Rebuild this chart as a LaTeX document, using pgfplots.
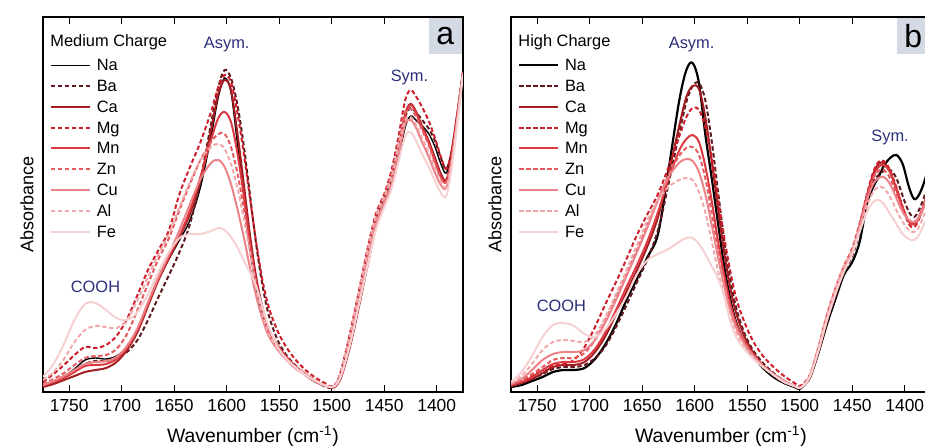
\documentclass[border=0pt]{standalone}
\usepackage{fontspec}
\setmainfont{Liberation Sans}
\usepackage{pgfplots}
\usepackage{pgfplotstable}
\pgfplotsset{compat=1.18}

\definecolor{cNa}{HTML}{000000}
\definecolor{cBa}{HTML}{5E1A1E}
\definecolor{cCa}{HTML}{A11D22}
\definecolor{cMg}{HTML}{CC1F2B}
\definecolor{cMn}{HTML}{DC3A40}
\definecolor{cZn}{HTML}{E55B60}
\definecolor{cCu}{HTML}{EC8388}
\definecolor{cAl}{HTML}{F2A9AC}
\definecolor{cFe}{HTML}{F7D0D2}
\definecolor{note}{HTML}{2B2F7A}
\definecolor{tag}{HTML}{D3DAE3}

% columns: wavenumber, then one column per cation (heights in px above the baseline)
\pgfplotstableread{
w Na Ba Ca Mg Mn Zn Cu Al Fe
1775 7 6 5 10 6 8 7 12 15
1765 11 10 8 18 10 13 11 20 28
1755 16 15 12 27 14 19 16 33 48
1745 23 21 16 37 20 27 22 50 72
1735 32 28 20 45 26 34 28 62 88
1725 34 31 22 44 27 36 30 66 89
1715 33 31 24 47 28 37 31 65 82
1705 36 34 30 56 33 43 35 64 74
1695 45 40 42 73 44 58 46 72 72
1685 62 52 60 97 62 82 64 92 80
1675 88 72 86 122 88 108 90 115 98
1665 112 95 112 142 113 133 115 138 120
1655 133 117 134 162 135 154 138 158 140
1645 152 140 155 198 156 182 162 185 154
1635 172 168 178 225 182 208 188 210 158
1625 205 212 212 250 215 232 213 232 158
1615 255 268 262 280 252 250 229 245 161
1608 295 305 298 305 274 258 232 248 164
1602 314 322 312 317 280 258 225 243 162
1596 300 314 302 310 270 245 208 228 155
1590 250 288 260 280 240 220 184 205 145
1584 200 248 210 240 198 185 156 175 132
1578 145 198 158 195 150 145 125 140 120
1572 105 148 115 150 110 108 96 105 106
1566 78 107 85 112 82 80 73 78 85
1560 58 77 63 85 62 60 56 58 65
1552 45 53 47 62 47 46 43 44 46
1544 34 38 36 46 36 35 33 34 34
1535 25 27 26 33 26 26 24 25 25
1525 17 17 17 22 18 18 17 18 17
1515 10 10 10 14 11 11 10 11 11
1505 6 5 6 8 6 6 6 6 6
1500 4 4 4 5 5 5 5 5 5
1495 8 9 7 10 8 10 8 10 8
1490 20 22 18 26 19 25 20 25 20
1482 50 55 48 62 50 60 52 60 50
1474 88 95 86 102 88 100 92 100 88
1466 128 135 126 143 128 140 132 140 126
1458 165 172 164 178 166 175 168 175 162
1450 188 193 188 198 190 196 190 195 185
1443 205 212 207 222 208 218 208 215 203
1436 235 245 242 258 242 252 240 248 232
1430 265 275 278 292 277 280 268 272 256
1425 276 284 288 302 287 283 272 275 260
1420 272 280 281 296 280 276 265 268 252
1414 266 272 266 285 264 262 250 254 238
1408 259 264 252 272 250 248 236 240 226
1402 246 252 235 255 232 230 220 224 212
1396 228 234 218 235 215 214 207 210 199
1391 219 223 212 223 210 210 204 205 196
1386 238 240 235 240 233 232 228 228 222
1380 280 282 280 282 278 278 276 276 272
1375 320 320 320 320 319 319 319 319 318
}\dataA

\pgfplotstableread{
w Na Ba Ca Mg Mn Zn Cu Al Fe
1775 5 6 6 7 7 8 8 9 10
1765 7 9 9 11 10 12 13 16 20
1755 11 13 13 16 15 18 22 28 36
1745 15 18 19 22 22 25 32 42 55
1735 20 23 25 26 28 32 38 50 67
1725 22 25 27 28 30 34 40 52 69
1715 22 25 27 32 30 34 40 51 66
1705 24 27 30 45 33 39 42 50 58
1695 33 34 40 65 43 52 52 57 55
1685 48 46 56 88 60 72 70 75 63
1675 68 65 78 110 82 95 92 98 78
1665 92 87 100 133 105 118 116 122 96
1655 113 110 122 157 127 142 140 147 118
1645 135 133 146 178 151 167 165 172 132
1635 158 162 175 198 180 192 192 192 138
1625 222 208 218 225 213 217 215 205 143
1615 290 258 265 255 241 236 229 212 150
1608 322 290 295 275 253 244 233 214 154
1602 329 306 306 284 257 245 231 212 154
1596 309 309 303 282 250 237 220 200 148
1590 258 292 275 265 226 214 198 180 138
1584 215 252 232 235 192 180 168 152 126
1578 170 202 185 195 152 143 136 122 114
1572 126 152 140 155 117 110 106 96 96
1566 92 112 103 120 88 84 81 75 70
1560 68 82 77 92 67 65 63 58 54
1552 48 57 54 68 49 49 47 44 42
1544 35 41 39 50 37 37 36 34 33
1535 24 29 27 36 26 27 26 25 25
1525 15 19 18 25 17 18 18 17 17
1515 9 11 11 16 10 11 11 10 10
1505 5 6 6 9 6 6 6 6 6
1500 3 4 4 6 4 4 4 4 4
1495 8 8 8 10 8 9 8 9 8
1490 15 16 16 18 16 18 17 18 16
1482 40 40 42 44 42 46 43 46 42
1474 68 70 72 75 72 78 74 78 72
1466 93 96 98 102 98 104 100 104 98
1458 117 120 122 124 122 126 122 126 120
1450 130 136 140 143 140 144 140 142 138
1443 150 160 166 168 165 168 164 164 160
1436 188 192 196 198 195 196 192 186 180
1430 205 210 218 220 215 214 208 200 190
1425 215 217 228 230 225 221 214 205 192
1420 226 221 229 231 227 222 215 204 188
1414 234 222 220 222 220 214 208 195 178
1408 237 214 203 205 203 198 194 182 168
1402 228 196 184 185 185 182 180 170 158
1396 205 180 170 168 170 172 172 162 153
1391 193 175 168 165 168 170 170 160 152
1386 198 183 175 174 176 176 175 166 158
1380 215 200 192 194 193 192 190 182 172
1375 240 222 212 214 213 212 210 202 190
}\dataB

\pgfplotsset{
  spec/.style={
    scale only axis, width=210pt, height=187.5pt, anchor=south west,
    x dir=reverse, xmin=1375, xmax=1775, ymin=0, ymax=375,
    xtick={1400,1450,...,1750}, ytick=\empty,
    tick align=inside, major tick length=3.5pt,
    axis line style={line width=0.8pt}, tick style={line width=0.7pt, black},
    /pgf/number format/1000 sep={},
    /pgf/number format/assume math mode=true,
    tick label style={font=\fontsize{8.7}{10}\selectfont},
    legend image code/.code={\draw[##1] (0pt,0pt) -- (19.5pt,0pt); \path (21.8pt,0pt);},
    legend cell align=left,
    legend style={at={([xshift=0.3pt,yshift=-18pt]axis description cs:0,1)},
      anchor=north west, draw=none, fill=none,
      font=\fontsize{8.2}{9}\selectfont, row sep=2.6pt,
      nodes={inner sep=0.6pt, text height=6pt, text depth=0.6pt}},
    every axis plot/.append style={smooth, tension=0.55, line width=1pt},
  },
  dsh/.style={dash pattern=on 2.2pt off 1.3pt},
}

\begin{document}
\begin{tikzpicture}[x=1pt,y=1pt]
\useasboundingbox (0,0) rectangle (462.5,223.5);

\begin{axis}[spec, name=A, at={(21.5pt,27.5pt)}]
  \addplot[cNa, line width=0.7pt] table[x=w,y=Na]{\dataA};
  \addplot[cBa, dsh] table[x=w,y=Ba]{\dataA};
  \addplot[cCa] table[x=w,y=Ca]{\dataA};
  \addplot[cMg, dsh] table[x=w,y=Mg]{\dataA};
  \addplot[cMn] table[x=w,y=Mn]{\dataA};
  \addplot[cZn, dsh] table[x=w,y=Zn]{\dataA};
  \addplot[cCu] table[x=w,y=Cu]{\dataA};
  \addplot[cAl, dsh] table[x=w,y=Al]{\dataA};
  \addplot[cFe] table[x=w,y=Fe]{\dataA};
  \legend{Na,Ba,Ca,Mg,Mn,Zn,Cu,Al,Fe}
  \node[note, font=\fontsize{8.2}{9}\selectfont] at (axis cs:1600,347) {Asym.};
  \node[note, font=\fontsize{8.2}{9}\selectfont] at (axis cs:1426,315) {Sym.};
  \node[note, font=\fontsize{8.2}{9}\selectfont] at (axis cs:1725,105) {COOH};
\end{axis}

\begin{axis}[spec, name=B, at={(255.5pt,27.5pt)}]
  \addplot[cNa, line width=1.1pt] table[x=w,y=Na]{\dataB};
  \addplot[cBa, dsh] table[x=w,y=Ba]{\dataB};
  \addplot[cCa] table[x=w,y=Ca]{\dataB};
  \addplot[cMg, dsh] table[x=w,y=Mg]{\dataB};
  \addplot[cMn] table[x=w,y=Mn]{\dataB};
  \addplot[cZn, dsh] table[x=w,y=Zn]{\dataB};
  \addplot[cCu] table[x=w,y=Cu]{\dataB};
  \addplot[cAl, dsh] table[x=w,y=Al]{\dataB};
  \addplot[cFe] table[x=w,y=Fe]{\dataB};
  \legend{Na,Ba,Ca,Mg,Mn,Zn,Cu,Al,Fe}
  \node[note, font=\fontsize{8.2}{9}\selectfont] at (axis cs:1603,347) {Asym.};
  \node[note, font=\fontsize{8.2}{9}\selectfont] at (axis cs:1414,255) {Sym.};
  \node[note, font=\fontsize{8.2}{9}\selectfont] at (axis cs:1727,86) {COOH};
\end{axis}

\foreach \ax/\ttl/\lab in {A/Medium Charge/a, B/High Charge/b} {
  \node[anchor=west, inner sep=0pt, font=\fontsize{8.2}{9}\selectfont]
    at ([xshift=3.5pt,yshift=-12.5pt]\ax.north west) {\ttl};
  \node[rotate=90, font=\fontsize{9}{10}\selectfont]
    at ([xshift=-8pt]\ax.west) {Absorbance};
  \node[font=\fontsize{9.7}{11}\selectfont]
    at ([yshift=-22pt]\ax.south) {Wavenumber (cm\textsuperscript{-1})};
  \node[fill=tag, anchor=north east, minimum width=16.5pt, minimum height=18pt,
    inner sep=0pt, font=\fontsize{16}{16}\selectfont]
    at ([xshift=-0.4pt,yshift=-0.4pt]\ax.north east) {\lab};
}
\end{tikzpicture}
\end{document}
